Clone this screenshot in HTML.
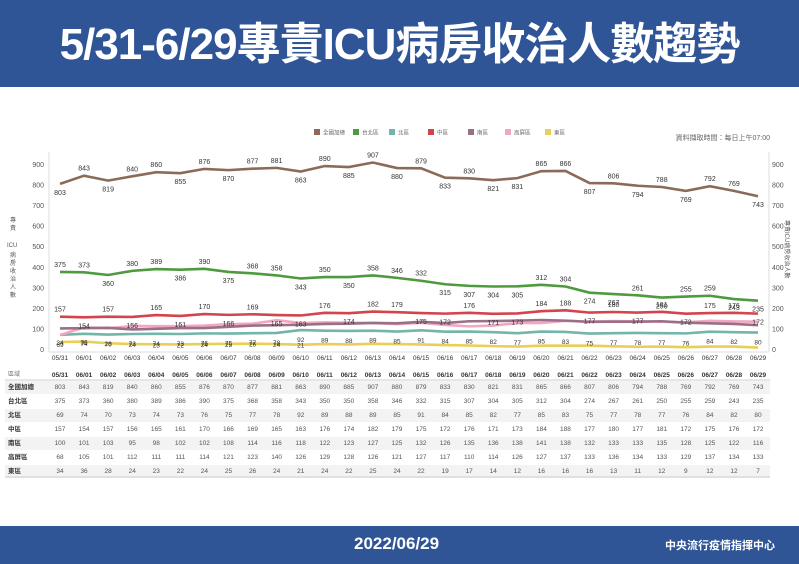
<!DOCTYPE html>
<html><head><meta charset="utf-8">
<style>
body{margin:0;width:799px;height:564px;overflow:hidden;background:#fff;font-family:"Liberation Sans","Noto Sans CJK TC",sans-serif;position:relative}
.top{position:absolute;left:0;top:0;width:799px;height:87px;background:#2f5597;color:#fff;font-weight:bold;font-size:44px;text-align:center;line-height:90px;letter-spacing:-1px}
.bot{position:absolute;left:0;top:526px;width:799px;height:38px;background:#2f5597;color:#fff;font-weight:bold}
</style></head><body>
<div class="top">5/31-6/29專責ICU病房收治人數趨勢</div>
<svg id="s" width="799" height="564" style="position:absolute;left:0;top:0" font-family="Liberation Sans, Noto Sans CJK TC, sans-serif"></svg>
<div class="bot"><span style="position:absolute;left:354px;top:8px;font-size:17px">2022/06/29</span><span style="position:absolute;left:665px;top:11px;font-size:11px">中央流行疫情指揮中心</span></div>
<script>
const D={
t:[803,843,819,840,860,855,876,870,877,881,863,890,885,907,880,879,833,830,821,831,865,866,807,806,794,788,769,792,769,743],
tp:[375,373,360,380,389,386,390,375,368,358,343,350,350,358,346,332,315,307,304,305,312,304,274,267,261,250,255,259,243,235],
n:[69,74,70,73,74,73,76,75,77,78,92,89,88,89,85,91,84,85,82,77,85,83,75,77,78,77,76,84,82,80],
c:[157,154,157,156,165,161,170,166,169,165,163,176,174,182,179,175,172,176,171,173,184,188,177,180,177,181,172,175,176,172],
s:[100,101,103,95,98,102,102,108,114,116,118,122,123,127,125,132,126,135,136,138,141,138,132,133,133,135,128,125,122,116],
k:[68,105,101,112,111,111,114,121,123,140,126,129,128,126,121,127,117,110,114,126,127,137,133,136,134,133,129,137,134,133],
e:[34,36,28,24,23,22,24,25,26,24,21,24,22,25,24,22,19,17,14,12,16,16,16,13,11,12,9,12,12,7]};
const cols={t:'#8b6b58',tp:'#4e9a3e',n:'#72b5aa',c:'#d2454c',s:'#9a7088',k:'#f2a6bf',e:'#e9cf55'};
const names={t:'全國加總',tp:'台北區',n:'北區',c:'中區',s:'南區',k:'高屏區',e:'東區'};
const X=i=>60+i*24.07, Y=v=>349-v*0.2056;
let h='';
for(let v=0;v<=900;v+=100){h+=`<text x="44" y="${Y(v)+3}" font-size="7" fill="#555" text-anchor="end">${v}</text><text x="772" y="${Y(v)+3}" font-size="7" fill="#555">${v}</text>`;}
h+=`<line x1="49" y1="152" x2="49" y2="352" stroke="#ddd"/><line x1="769" y1="152" x2="769" y2="352" stroke="#ddd"/><line x1="49" y1="352" x2="769" y2="352" stroke="#ddd"/>`;
h+=`<text x="10" y="222" font-size="6" fill="#555">專</text><text x="10" y="230" font-size="6" fill="#555">責</text><text x="7" y="247" font-size="6" fill="#555">ICU</text>`;
['病','房','收','治','人','數'].forEach((c,i)=>h+=`<text x="10" y="${257+i*8}" font-size="6" fill="#555">${c}</text>`);
h+=`<text x="785" y="220" font-size="6" fill="#555" transform="rotate(90 785 220)">專責ICU病房收治人數</text>`;
const lxs=[314,353,389,428,468,505,545];
['t','tp','n','c','s','k','e'].forEach((k,j)=>{const lx=lxs[j];h+=`<rect x="${lx}" y="129" width="6" height="6" fill="${cols[k]}"/><text x="${lx+9}" y="134.5" font-size="5.5" fill="#666">${names[k]}</text>`;});
h+=`<text x="770" y="140" font-size="7" fill="#666" text-anchor="end">資料擷取時間：每日上午07:00</text>`;
['e','n','k','s','c','tp','t'].forEach(k=>{const a=D[k];h+=`<polyline fill="none" stroke="${cols[k]}" stroke-width="2.6" points="${a.map((v,i)=>X(i)+','+Y(v)).join(' ')}"/>`;});
['t','tp','c'].forEach(k=>{const a=D[k];a.forEach((v,i)=>{const p=a[i-1]??v,q=a[i+1]??v;const up=v>=(p+q)/2;h+=`<text x="${X(i)}" y="${Y(v)+(up?-5:11)}" font-size="7" fill="#333" text-anchor="middle">${v}</text>`;});});
D.n.forEach((v,i)=>{h+=`<text x="${X(i)}" y="${Y(v)+12}" font-size="6.5" fill="#333" text-anchor="middle">${v}</text>`});
D.e.forEach((v,i)=>{if(i<11)h+=`<text x="${X(i)}" y="${Y(v)+3}" font-size="6.5" fill="#333" text-anchor="middle">${v}</text>`});
const dates=[];for(let i=0;i<30;i++){dates.push(i==0?'05/31':'06/'+String(i).padStart(2,'0'));}
dates.forEach((d,i)=>{h+=`<text x="${X(i)}" y="360" font-size="6.5" fill="#333" text-anchor="middle">${d}</text><text x="${X(i)}" y="377" font-size="6.5" fill="#333" font-weight="bold" text-anchor="middle">${d}</text>`});
h+=`<text x="8" y="376" font-size="6" fill="#777">區域</text><line x1="5" y1="380" x2="770" y2="380" stroke="#ccc"/>`;
['t','tp','n','c','s','k','e'].forEach((k,r)=>{const y=387+r*14;if(r%2==0)h+=`<rect x="5" y="${y-6}" width="765" height="13" fill="#f3f3f3"/>`;h+=`<text x="8" y="${y+2}" font-size="6.5" font-weight="bold" fill="#333">${names[k]}</text>`;D[k].forEach((v,i)=>h+=`<text x="${X(i)}" y="${y+2}" font-size="6.5" fill="#555" text-anchor="middle">${v}</text>`)});
h+=`<line x1="5" y1="477" x2="770" y2="477" stroke="#ccc"/>`;
document.getElementById('s').innerHTML=h;
</script>
</body></html>
